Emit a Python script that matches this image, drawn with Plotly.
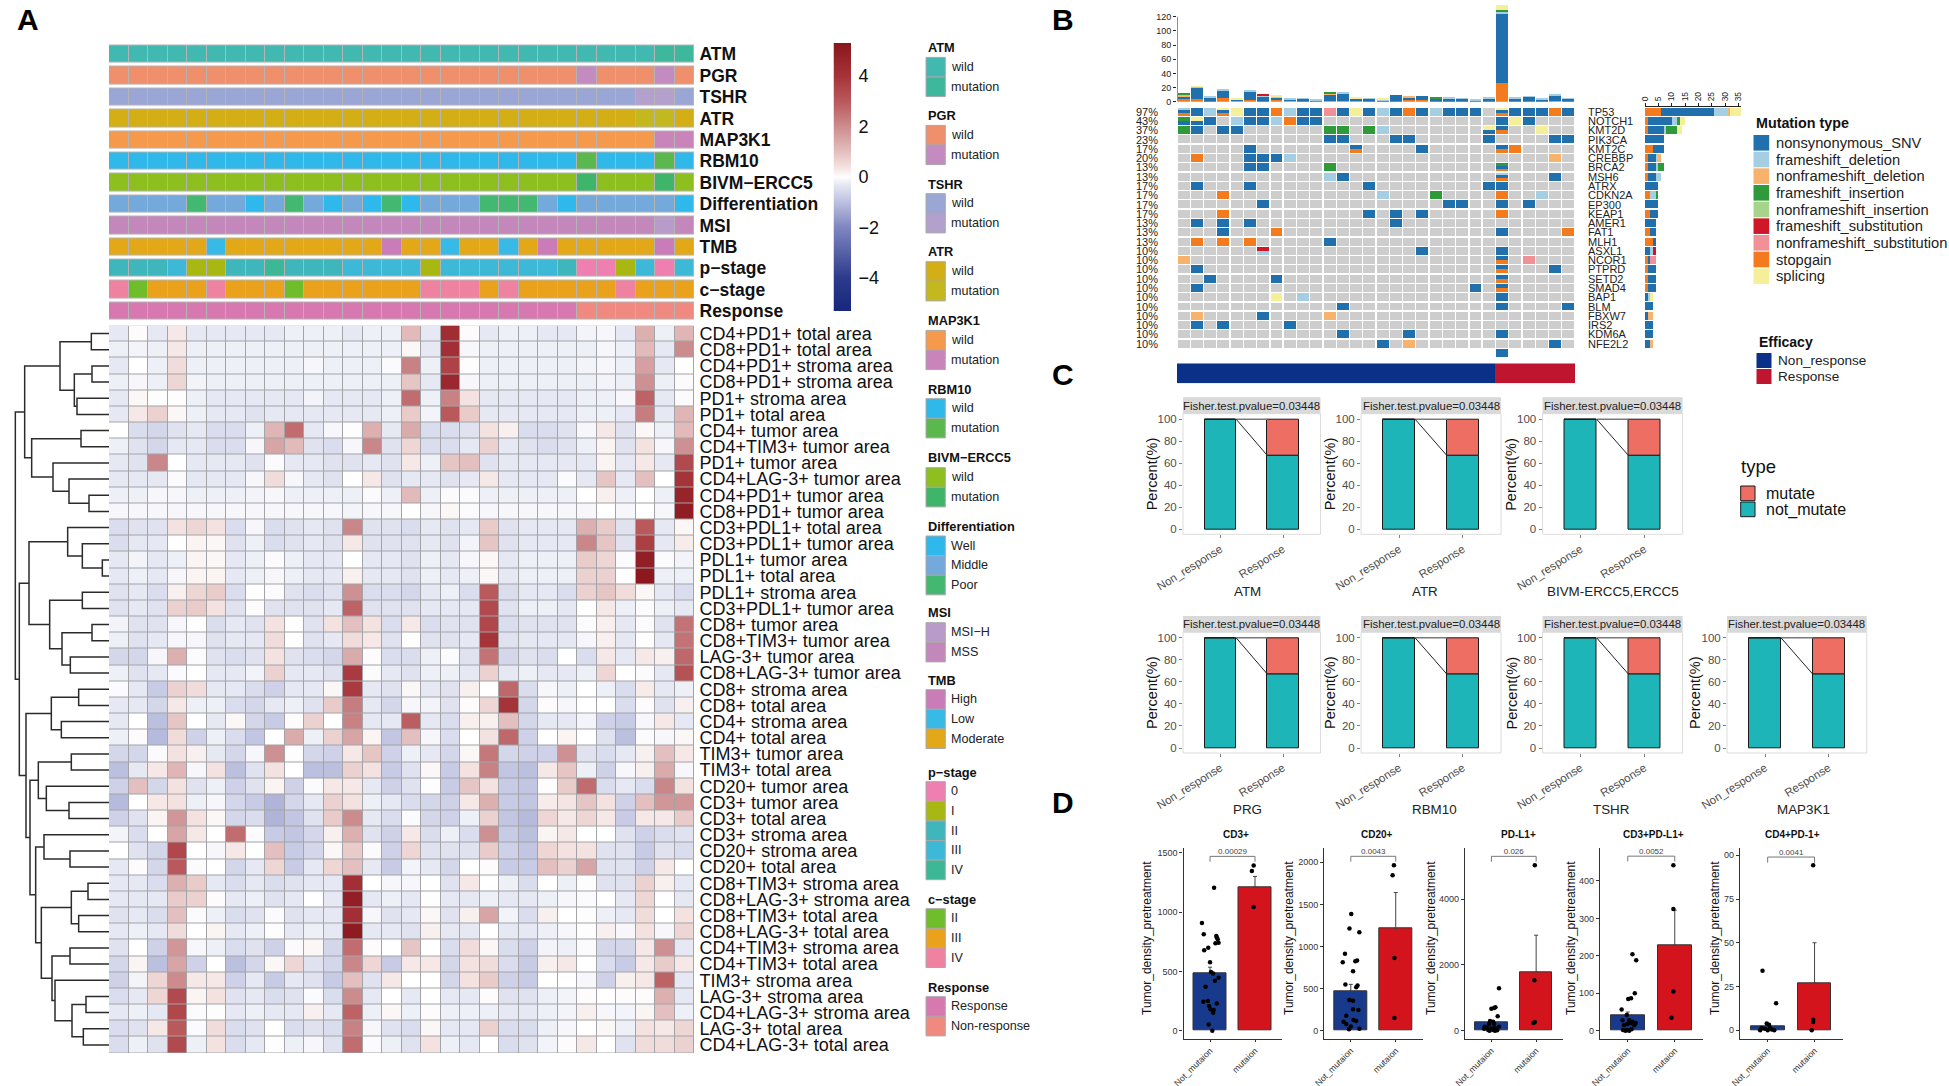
import plotly.graph_objects as go

W, H = 1949, 1086
FONT = "Liberation Sans"

# ---------- Panel A data ----------
heat_labels = ["CD4+PD1+ total area","CD8+PD1+ total area","CD4+PD1+ stroma area","CD8+PD1+ stroma area","PD1+ stroma area","PD1+ total area",
"CD4+ tumor area","CD4+TIM3+ tumor area","PD1+ tumor area","CD4+LAG-3+ tumor area","CD4+PD1+ tumor area","CD8+PD1+ tumor area",
"CD3+PDL1+ total area","CD3+PDL1+ tumor area","PDL1+ tumor area","PDL1+ total area","PDL1+ stroma area","CD3+PDL1+ tumor area",
"CD8+ tumor area","CD8+TIM3+ tumor area","LAG-3+ tumor area","CD8+LAG-3+ tumor area","CD8+ stroma area","CD8+ total area",
"CD4+ stroma area","CD4+ total area","TIM3+ tumor area","TIM3+ total area","CD20+ tumor area","CD3+ tumor area","CD3+ total area",
"CD3+ stroma area","CD20+ stroma area","CD20+ total area","CD8+TIM3+ stroma area","CD8+LAG-3+ stroma area","CD8+TIM3+ total area",
"CD8+LAG-3+ total area","CD4+TIM3+ stroma area","CD4+TIM3+ total area","TIM3+ stroma area","LAG-3+ stroma area","CD4+LAG-3+ stroma area",
"LAG-3+ total area","CD4+LAG-3+ total area"]

heat_values = [
[-.3,.05,-.3,.3,-.3,-.3,-.3,-.3,-.3,-.2,-.2,-.2,-.3,-.2,-.2,1.1,-.3,4.3,.05,-.3,-.2,-.2,-.3,-.3,-.15,-.1,-.3,1.3,-.2,1.2],
[-.2,-.15,-.2,.3,-.2,-.2,-.2,-.2,-.2,-.2,-.2,-.2,-.2,-.2,-.2,.1,-.3,4.2,-.1,-.2,-.2,-.2,-.2,-.2,-.2,-.1,-.2,1.1,-.3,2.0],
[-.3,0,-.2,.5,-.2,-.2,-.2,-.2,-.2,-.2,-.1,-.2,-.2,-.2,-.05,2.2,-.2,3.6,.02,-.2,-.2,-.2,-.2,-.2,-.15,-.1,-.2,1.6,-.3,0],
[-.2,-.1,-.2,.6,-.15,-.2,-.2,-.2,-.2,-.2,-.2,-.2,-.2,-.2,-.2,.9,-.3,4.5,-.1,-.2,-.2,-.2,-.2,-.2,-.2,-.15,-.2,1.9,-.2,-.05],
[-.3,.1,-.02,-.02,-.2,-.3,-.3,-.3,-.3,-.3,-.15,-.3,-.3,-.3,-.2,2.6,-.2,2.2,.4,-.3,-.3,-.3,-.3,-.3,-.2,-.2,-.1,2.8,-.3,-.05],
[-.3,.3,.7,.1,-.2,-.3,-.3,-.4,-.3,-.3,-.3,-.3,-.3,-.3,-.2,.8,-.15,3,.8,-.3,-.3,-.3,-.3,-.3,-.2,-.2,-.3,2.3,-.3,1.2],
[0,-.5,-.6,-.4,-.3,-.5,-.5,-.2,1.2,2.6,-.3,-.1,.02,1.3,-.3,1.4,-.5,-.5,-.4,.4,.2,-.5,-.5,-.4,-.1,.3,-.4,.1,-.2,1.1],
[-.2,-.4,-.6,-.3,-.3,-.5,-.5,-.1,1.5,1.1,-.4,-.5,-.1,2.1,-.4,.6,-.5,-.5,-.3,.7,-.3,-.4,-.5,-.4,-.2,.15,-.4,.4,-.1,1.9],
[-.3,-.4,2.1,0,-.3,-.3,-.3,-.4,-.05,-.3,-.3,-.4,-.4,-.3,-.4,.3,-.2,.9,1.0,-.4,-.3,-.3,-.3,-.3,-.3,.15,-.3,.3,-.3,3.4],
[-.3,-.3,-.3,-.05,-.3,-.3,-.3,-.1,.5,-.1,-.3,-.4,0,.3,-.4,-.3,-.3,-.4,-.3,.3,-.3,-.3,-.3,-.05,-.3,.9,-.3,1.0,0,4.0],
[-.2,-.2,-.1,-.1,-.2,-.2,-.2,-.15,-.1,-.2,-.2,-.2,-.2,-.05,-.2,1.1,-.2,-.05,-.05,-.2,-.2,-.2,-.2,-.2,0,.2,-.2,0,-.2,4.7],
[-.1,-.1,-.1,-.1,-.1,-.1,-.1,-.1,-.1,-.1,-.1,-.1,-.15,-.1,-.1,0,-.1,.1,-.05,-.1,-.1,-.1,-.1,-.1,-.1,0,-.1,0,-.1,5.0],
[-.5,-.4,-.4,.4,.6,.4,-.5,-.1,-.5,-.4,-.3,-.4,2.1,-.4,-.4,-.5,-.3,-.4,-.3,.8,-.4,-.3,-.3,-.3,1.3,.8,-.4,3.0,-.3,.1],
[-.5,-.3,-.3,0,.15,.1,-.4,-.2,-.5,-.4,-.3,-.4,.3,-.4,-.4,-.4,-.3,-.4,-.15,.9,-.4,-.3,-.3,-.3,2.1,.9,-.4,3.7,-.3,.25],
[-.3,-.15,-.3,-.2,.15,.1,-.3,-.2,-.05,-.2,-.3,-.3,0,-.3,-.3,-.4,-.2,-.3,-.1,.1,-.3,-.2,-.2,-.2,.8,.6,-.05,4.9,-.05,-.15],
[-.3,-.2,-.3,-.1,.15,.15,-.3,-.2,-.1,-.2,-.3,-.3,.2,-.3,-.3,-.4,-.2,-.3,-.2,.1,-.3,-.2,-.2,-.2,.7,.7,0,5.2,-.2,-.2],
[-.4,-.3,-.5,.2,.6,.8,-.5,0,-.05,-.4,-.5,-.4,1.9,-.5,-.5,-.6,-.3,-.2,-.5,3.0,-.5,-.3,-.3,-.5,.7,.9,.5,.1,-.3,-.5],
[-.4,-.3,-.4,.7,.8,.4,-.4,.05,-.4,-.4,-.4,-.3,2.8,-.4,-.4,-.4,-.3,-.3,-.3,3.4,-.4,-.2,-.2,-.3,0,.3,-.2,-.05,-.2,-.3],
[-.15,-.4,-.4,-.1,0,-.5,-.3,-.4,.4,0,-.4,.4,1.0,.4,-.5,.3,-.5,-.4,-.4,3.5,-.5,-.4,-.4,-.4,-.05,.2,-.3,-.05,-.4,2.5],
[-.2,-.4,-.3,-.1,-.1,-.4,-.3,-.3,.5,0,-.4,-.3,.5,.3,-.4,0,-.4,-.4,-.3,4.0,-.4,-.3,-.3,-.3,-.1,.2,-.3,0,-.3,2.5],
[-.6,-.6,-.1,1.3,-.05,-.4,-.5,-.4,.4,-.4,-.5,-.6,1.4,.05,-.5,-.5,-.2,-.05,-.4,2.5,-.6,-.4,-.5,0,-.5,.3,-.3,.3,.2,2.7],
[-.2,-.4,-.3,-.05,0,-.3,-.3,-.15,.7,-.3,-.3,-.4,3.8,-.05,-.3,-.4,-.2,-.2,-.3,.7,-.3,-.2,-.3,-.3,-.2,.6,0,-.05,-.3,3.2],
[-.05,-.3,-.8,.7,.5,-.3,-.3,-.5,-.7,-.3,-.3,.1,3.8,-.3,-.4,.1,-.3,-.4,.2,0,2.7,-.5,-.1,-.2,0,-.2,-.5,.25,-.3,-.2],
[-.3,-.3,-.6,.3,-.2,-.2,-.5,-.6,-.3,-.2,-.4,.8,2.3,-.3,-.6,-.1,-.15,-.4,.05,.6,4.0,-.6,.05,-.1,0,0,-.5,.05,-.4,.2],
[-.3,0,-1,.9,0,-.3,.1,-.6,-.8,.05,.7,0,2.2,-.3,-.3,2.9,-.3,-.5,.2,.2,1.0,-.6,-.3,-.3,-.15,-.7,-.8,-.1,.3,-.3],
[-.2,.05,-1.1,.5,-.7,-.2,-.5,-.9,0,1.4,-.2,.7,1.5,.15,-.9,1.0,-.1,-.5,0,.4,2.7,-.7,0,.15,0,-.4,-1.0,-.05,-.1,.1],
[-.6,-.6,-.05,.4,.2,-.3,-.6,-.1,1.9,-.02,-.6,-.7,.3,.9,-.7,-.2,-.3,-.6,.1,2.4,-.6,-.7,-.7,1.9,-.4,-.5,-.3,.2,1.0,.3],
[-1.0,-.3,.3,1.2,-.1,.4,-1,-.4,.4,0,-1,-1,.7,.4,-.8,-.4,.1,-.8,.4,2.2,-.9,-1,.3,.9,-.2,-.7,-.1,.2,1.4,-.1],
[-.7,1.0,-.6,.4,-.4,-.2,-.7,-.4,.15,-.7,-.05,.3,.3,-.3,-.7,-.4,.02,-.8,.9,.4,-.8,-.9,.02,.8,2.6,-.5,-.3,-.5,2.1,.4],
[-1.1,0,.3,.4,-.2,-.1,-.6,-.8,-1.2,-.6,-.3,.7,.4,-.2,-.3,-.5,-.6,-.7,.3,1.3,-.8,-.9,.25,.35,.9,.4,-.7,1.0,1.8,1.8],
[-.7,-.4,.15,1.8,.4,.1,-.6,-.5,-1.2,-.9,-.4,.8,2.0,-.3,-.5,-.05,-.6,-.7,-.2,.7,-.9,-1.1,.6,.3,.6,.3,-.8,.3,.3,.8],
[-.15,-.5,0,1.5,.3,0,2.6,-.05,-.8,-.9,-.6,.2,1.3,-.4,-.7,.3,-.5,-.2,-.5,1.9,-.8,-1,.15,.3,0,0,-.4,-.7,-.5,-.4],
[0,-.4,-.6,3.5,0,-.1,.3,0,1.0,-.8,-.6,.1,.8,-.05,-.7,.6,-.4,-.4,-.4,.8,-.7,-.9,.6,.4,.4,-.4,-.4,-.8,-.4,-.5],
[-.3,.05,-.6,3.0,-.05,0,-.6,-.3,.6,-.8,-.3,.6,1.0,-.3,-.8,-.15,-.3,-.6,0,.05,-.8,-.8,1.0,.7,1.5,-.4,-.4,-.7,.3,0],
[-.3,-.3,-.5,1.3,.8,-.3,-.5,-.3,-.5,-.4,-.3,-.3,4.2,0,-.1,-.1,0,-.4,.3,0,-.2,-.5,0,-.2,-.02,-.4,-.4,.7,.2,-.3],
[-.3,-.3,-.3,.8,.7,.05,-.3,-.2,-.4,-.3,0,-.3,4.9,-.3,-.2,-.3,.03,-.3,-.3,-.2,-.3,-.3,-.2,-.1,-.05,0,-.3,.6,0,-.3],
[-.4,-.3,-.5,1.0,-.05,-.2,-.5,-.4,-.05,-.4,-.3,-.3,4.2,-.1,-.4,-.3,.1,-.4,.2,1.5,-.15,-.5,.2,0,.03,-.2,-.3,.5,0,.4],
[-.3,-.2,-.3,.5,0,.15,-.3,-.2,.02,-.3,-.2,-.3,5.1,-.3,-.3,-.4,.2,-.3,-.3,0,-.3,-.3,-.2,-.1,-.02,.2,-.1,.4,-.1,.6],
[-.4,0,-.7,1.8,-.1,-.2,-.5,-.4,-.7,-.05,.1,-.6,2.6,.05,0,.9,0,-.5,.5,.1,-.5,-.7,-.15,-.2,-.05,-.6,-.6,.3,1.9,-.3],
[-.6,.15,-1,1.5,-.7,0,-1,-.6,.1,.6,-.4,-.6,2.1,.6,-.8,.3,.3,-.6,.4,.5,-.5,-.8,.2,.3,0,-.5,-.8,.3,.8,.3],
[-.7,-.15,.6,2.0,.3,.3,-.7,-.3,-.8,-.3,-.4,-.8,1.0,-.4,.3,0,0,-.6,.4,.8,-.7,-.8,0,0,-.1,-.7,.2,.3,2.8,-.3],
[-.5,-.3,.6,3.4,.15,.4,-.4,-.3,-.5,-.4,-.05,-.5,2.0,-.3,0,-.3,0,-.3,-.3,.05,-.4,-.4,-.2,-.15,.05,0,.05,.05,1.3,-.3],
[-.3,-.2,-.3,3.5,-.05,.02,-.3,-.2,-.3,-.3,.2,-.3,2.8,-.2,.1,-.2,.05,-.2,-.2,-.2,-.3,-.3,-.2,-.15,.2,-.1,-.15,.15,1.0,-.2],
[-.5,-.4,.3,3.0,-.05,.5,-.5,-.4,0,-.5,-.4,-.5,2.2,-.1,-.4,-.5,.1,-.3,-.3,.7,-.5,-.5,-.2,-.1,0,.1,-.2,.4,.3,.6],
[-.5,-.2,-.4,3.4,-.2,.4,-.5,-.3,-.02,-.2,-.1,-.4,2.6,-.05,-.2,-.4,.4,-.2,-.3,0,-.5,-.4,-.15,.05,.3,0,-.4,.5,.5,.7],
]

heat_stops = [(-5.3,"#17277c"),(-4,"#2d3b8d"),(-2,"#7f86c0"),(-1,"#bcc0df"),(-.3,"#e6e8f3"),(0,"#ffffff"),
              (.3,"#f5e8e6"),(1,"#e4bfbf"),(2,"#cc8c8e"),(3,"#b9595c"),(4,"#a53439"),(5.3,"#8a161c")]

track_names = ["ATM","PGR","TSHR","ATR","MAP3K1","RBM10","BIVM\u2212ERCC5","Differentiation","MSI","TMB","p\u2212stage","c\u2212stage","Response"]
track_ATM = ["wild"]*28 + ["mutation"]*2
track_PGR = ["wild"]*24 + ["mutation","wild","wild","wild","mutation","wild"]
track_TSHR = ["wild"]*27 + ["mutation","mutation","wild"]
track_ATR = ["wild"]*27 + ["mutation","mutation","wild"]
track_MAP3K1 = ["wild"]*28 + ["mutation","mutation"]
track_RBM10 = ["wild"]*24 + ["mutation","wild","wild","wild","mutation","wild"]
track_BIVM = ["wild"]*24 + ["mutation","wild","wild","wild","mutation","wild"]
track_diff = ["Middle","Middle","Middle","Middle","Poor","Middle","Middle","Well","Middle","Poor","Middle","Well","Middle","Well","Poor","Well","Middle","Middle","Middle","Poor","Poor","Poor","Middle","Well","Middle","Middle","Middle","Middle","Middle","Well"]
track_MSI = ["MSS"]*28 + ["MSI\u2212H","MSS"]
track_TMB = ["Moderate","Moderate","Moderate","Moderate","Moderate","Low","Moderate","Moderate","Moderate","Moderate","Moderate","Moderate","Moderate","Moderate","High","Moderate","Moderate","Low","Moderate","Moderate","Low","Moderate","High","Moderate","Moderate","Moderate","Moderate","Moderate","High","Moderate"]
track_p = ["II","II","II","III","I","I","II","II","IV","II","II","II","III","III","III","III","I","III","III","III","III","III","III","II","0","0","I","III","0","III"]
track_c = ["IV","II","III","III","III","IV","III","III","III","II","III","III","III","III","III","III","IV","IV","IV","III","IV","III","III","III","III","III","IV","III","III","III"]
track_resp = ["Response"]*24 + ["Non-response"]*6
track_data = [track_ATM,track_PGR,track_TSHR,track_ATR,track_MAP3K1,track_RBM10,track_BIVM,track_diff,track_MSI,track_TMB,track_p,track_c,track_resp]

legend_groups = [
 ("ATM",["wild","mutation"],["#42b9b0","#3db89c"],47.7),
 ("PGR",["wild","mutation"],["#f08f6b","#c48bc0"],115.7),
 ("TSHR",["wild","mutation"],["#9aa6d6","#b3a0cc"],184),
 ("ATR",["wild","mutation"],["#d3ae14","#c4b81f"],252),
 ("MAP3K1",["wild","mutation"],["#f59a4d","#c985ba"],320.7),
 ("RBM10",["wild","mutation"],["#2fb9ea","#5ab84f"],389),
 ("BIVM\u2212ERCC5",["wild","mutation"],["#8dbf1f","#3fb56a"],458),
 ("Differentiation",["Well","Middle","Poor"],["#2fb8ec","#74a9dc","#43b870"],526.3),
 ("MSI",["MSI\u2212H","MSS"],["#b89bc8","#c487bb"],613),
 ("TMB",["High","Low","Moderate"],["#c97cb7","#37bae6","#e2a818"],680),
 ("p\u2212stage",["0","I","II","III","IV"],["#ee7fb0","#a9b713","#3fb6bb","#3db8d6","#3db896"],772),
 ("c\u2212stage",["II","III","IV"],["#70bd2c","#eaa21c","#ee82a0"],899),
 ("Response",["Response","Non-response"],["#d878b0","#f08a80"],987),
]

# dendrogram merges: (child, child, height); ints are rows, "mN" is merge N
den_merges = [
 (1,2,53),(3,4,51),(5,6,96),("m1","m2",104),("m0","m3",147),
 (7,8,84),(11,12,60),(10,"m6",120),(9,"m7",168),("m5","m8",232),("m4","m9",253),
 (15,16,20),(14,"m11",80),(13,"m12",124),(17,18,80),(19,20,51),(21,22,116),("m15","m16",141),("m14","m17",178),("m13","m18",240),
 (23,24,91),(25,26,143),("m20","m21",173),
 (27,28,113),(30,31,120),(29,"m24",188),("m23","m25",212),
 (33,34,117),(32,"m27",195),
 (35,36,63),(37,38,91),("m29","m30",113),
 (39,40,117),(42,43,69),(44,45,77),("m33","m34",111),(41,"m35",162),("m32","m36",171),("m31","m37",203),
 ("m28","m38",220),("m26","m39",237),("m22","m40",249),("m19","m41",269),("m10","m42",281),
]

# ---------- Panel B data ----------
genes = ["TP53","NOTCH1","KMT2D","PIK3CA","KMT2C","CREBBP","BRCA2","MSH6","ATRX","CDKN2A","EP300","KEAP1","AMER1","FAT1","MLH1","ASXL1","NCOR1","PTPRD","SETD2","SMAD4","BAP1","BLM","FBXW7","IRS2","KDM6A","NFE2L2"]
gene_pct = ["97%","43%","37%","23%","17%","20%","13%","13%","17%","17%","17%","17%","13%","13%","13%","10%","10%","10%","10%","10%","10%","10%","10%","10%","10%","10%"]
mut_types = ["N","F","D","I","J","S","T","G","P"]
mut_names = ["nonsynonymous_SNV","frameshift_deletion","nonframeshift_deletion","frameshift_insertion","nonframeshift_insertion","frameshift_substitution","nonframeshift_substitution","stopgain","splicing"]
mut_colors = ["#2070ad","#a6cee3","#f7b26b","#2f9a39","#a8d38a","#d0172a","#f29097","#f37a1d","#f6ef9a"]
onco = [
 {1:"FNG",2:"N",3:"F",4:"PNG",5:"P",6:"N",7:"N",8:"G",9:"F",10:"N",11:"N",12:"T",13:"N",14:"P",15:"N",16:"F",17:"N",18:"G",19:"N",20:"F",21:"N",22:"N",23:"N",25:"PNG",26:"N",27:"N",28:"N",29:"G",30:"N"},
 {1:"IN",2:"PN",3:"N",5:"F",6:"N",7:"N",8:"F",9:"G",10:"N",11:"N",25:"N",26:"P",27:"N"},
 {1:"I",2:"N",4:"N",5:"N",12:"I",13:"I",15:"I",16:"F",24:"PN",25:"NG",28:"P"},
 {12:"N",13:"N",17:"N",18:"N",24:"N",29:"N",30:"N"},
 {6:"N",14:"NG",19:"N",25:"NG",26:"G"},
 {2:"G",6:"N",7:"N",8:"N",9:"F",29:"D"},
 {6:"N",7:"N",12:"I",25:"ING"},
 {12:"F",13:"N",25:"FNG",29:"N"},
 {2:"N",6:"N",15:"N",24:"N",25:"N"},
 {4:"G",16:"F",20:"I",25:"G",28:"F"},
 {7:"N",21:"N",22:"N",25:"N",27:"N"},
 {4:"G",15:"N",17:"N",19:"N",25:"G"},
 {2:"N",4:"N",6:"N",17:"N"},
 {4:"N",8:"G",25:"N",30:"G"},
 {2:"G",4:"G",6:"G",12:"N"},
 {7:"SF",19:"N",25:"N"},
 {1:"D",25:"NG",27:"T"},
 {2:"N",25:"NG",29:"N"},
 {3:"N",8:"N",25:"NG"},
 {2:"N",23:"N",25:"NG"},
 {8:"P",10:"F",25:"N"},
 {13:"N",25:"N",30:"N"},
 {2:"D",7:"N",12:"D"},
 {2:"N",4:"N",9:"N"},
 {13:"N",18:"N",25:"N"},
 {16:"N",18:"D",29:"N"},
 {25:"N"},
]
stack_order = ["G","N","F","D","I","J","S","T","P"]
top_counts = {
 "G":[4,4,0,5,1,2,0,3,1,0,0,1,1,2,0,0,0,3,2,0,0,0,0,0,27,0,0,0,1,0],
 "N":[4,16,6,11,2,13,8,3,2,4,2,8,11,2,4,1,9,3,6,4,5,4,2,5,98,5,7,3,8,4],
 "F":[0,1,1,1,0,1,1,2,2,1,1,0,2,0,1,2,0,0,0,0,1,1,1,1,2,1,1,1,1,1],
 "D":[2,0,0,0,0,0,0,0,0,0,0,3,0,0,0,0,0,1,0,0,0,0,0,0,0,0,0,0,0,0],
 "I":[3,0,0,0,0,0,0,0,0,0,0,2,0,1,0,0,0,0,0,2,0,0,0,0,3,0,0,0,0,0],
 "J":[0]*30,
 "S":[0,0,0,0,0,0,1,0,0,0,0,0,0,0,0,0,0,0,0,0,0,0,0,0,0,0,0,0,0,0],
 "T":[0]*30,
 "P":[0,1,0,0,1,0,0,1,0,0,0,0,0,2,0,1,0,0,0,0,0,0,0,0,7,0,0,0,0,0],
}
right_counts = {
 "G":[6,1,1,0,3,1,1,1,0,2,0,2,0,2,3,0,1,1,1,1,0,0,0,0,0,0],
 "N":[20,9,6,7,4,3,3,3,5,0,5,3,4,2,1,2,1,3,3,3,1,3,1,3,3,2],
 "F":[5,2,1,0,0,1,1,2,0,2,0,0,0,0,0,1,0,0,0,0,1,0,0,0,0,0],
 "D":[1,0,0,0,0,1,0,0,0,0,0,0,0,0,0,0,0,0,0,0,0,0,2,0,0,1],
 "I":[0,1,4,0,0,0,2,0,0,1,0,0,0,0,0,0,0,0,0,0,0,0,0,0,0,0],
 "J":[0]*26,
 "S":[0,0,0,0,0,0,0,0,0,0,0,0,0,0,0,1,0,0,0,0,0,0,0,0,0,0],
 "T":[0,0,0,0,0,0,0,0,0,0,0,0,0,0,0,0,2,0,0,0,0,0,0,0,0,0],
 "P":[4,2,2,0,0,0,0,0,0,0,0,0,0,0,0,0,0,0,0,0,1,0,0,0,0,0],
}
efficacy = ["Non_response"]*24 + ["Response"]*6

# ---------- Panel C data ----------
c_titles = ["ATM","ATR","BIVM-ERCC5,ERCC5","PRG","RBM10","TSHR","MAP3K1"]
c_groups = ["Non_response","Response"]
c_not_mutate = [100, 67]
c_mutate = [0, 33]
c_pvalue = "Fisher.test.pvalue=0.03448"

# ---------- Panel D data ----------
d_titles = ["CD3+","CD20+","PD-L1+","CD3+PD-L1+","CD4+PD-1+"]
d_groups = ["Not_mutaion","mutaion"]
d_bars = [[480,1210],[470,1210],[240,1780],[40,228],[2.5,27]]
d_errs = [[55,90],[80,430],[40,1120],[10,94],[0.5,23]]
d_p = ["0.00029","0.0043","0.026","0.0052","0.0041"]
d_bracket = [(1424,1469),(2008,2071),(5134,5296),(452,466),(95.8,99)]
d_ranges = [[-70,1537],[-99,2166],[-253,5540],[-22,487],[-5,104]]
d_ticks = [[0,500,1000,1500],[0,500,1000,1500,2000],[0,2000,4000],[0,100,200,300,400],[0,25,50,75,100]]
d_ticktext = [["0","500","1000","1500"],["0","500","1000","1500","2000"],["0","2000","4000"],["0","100","200","300","400"],["0","25","50","75","00"]]
d1_x = [-.18,-.14,.09,-.13,-.04,.14,.15,.17,.12,.19,0,.02,.07,.11,.19,-.1,-.15,-.05,.15,-.02,.01,.08,.07,-.03,.05]
d1_y = [907,812,1205,677,700,798,786,770,736,742,576,494,483,421,447,371,244,250,230,208,180,174,152,53,0]
d1_mx = [-.03,-.07,-.03]; d1_my = [1393,1345,1042]
d2_x = [.01,-.03,.19,-.13,-.18,.1,.14,.05,-.12,.12,.15,-.03,.05,.05,.17,-.1,-.16,.06,.12,0,-.04,.19,-.1]
d2_y = [1386,1212,1168,915,812,824,832,705,547,515,535,364,356,253,245,178,107,127,115,48,16,24,79]
d2_mx = [-.04,-.07,-.03,-.03]; d2_my = [1964,1845,863,150]
d3_x = [.17,0,.06,.09,.14,-.03,.04,-.05,.06,-.15,-.1,0,.08,.17,-.07,.04,.13,-.16,-.04,.08]
d3_y = [1286,668,689,709,435,294,273,203,203,122,91,71,71,122,20,20,10,61,0,0]
d3_mx = [-.03,-.04,-.03,-.06]; d3_my = [5023,1529,263,233]
d4_x = [.1,.18,.15,.07,.01,-.13,-.02,-.11,.03,.1,.17,-.08,-.01,.06,.14,-.1,-.01,.08,-.05,.03]
d4_y = [204,188,100,87,85,57,42,28,28,24,21,15,18,20,15,2,2,4,0,0]
d4_mx = [-.03,-.03,-.03,-.07]; d4_my = [442,325,105,35]
d5_x = [-.11,.18,-.02,.03,-.13,-.06,.05,.09,-.16,.14,0]
d5_y = [34,15.4,3.8,3.2,1.3,.8,1.3,.4,0,0,0]
d5_mx = [-.03,-.03,-.03,-.06]; d5_my = [94.3,6,4.7,0]
d_points = [(d1_x,d1_y,d1_mx,d1_my),(d2_x,d2_y,d2_mx,d2_my),(d3_x,d3_y,d3_mx,d3_my),(d4_x,d4_y,d4_mx,d4_my),(d5_x,d5_y,d5_mx,d5_my)]

# ---------- helpers ----------
fig = go.Figure()
layout = {}
annos = []
shapes = []

def px(x): return x / W
def py(y): return 1 - y / H

def add_axes(n, x0, x1, y0, y1, xa=None, ya=None):
    sx = "" if n == 1 else str(n)
    xd = dict(domain=[px(x0), px(x1)], anchor="y" + sx, showgrid=False, zeroline=False, automargin=False)
    yd = dict(domain=[py(y1), py(y0)], anchor="x" + sx, showgrid=False, zeroline=False, automargin=False)
    xd.update(xa or {}); yd.update(ya or {})
    layout["xaxis" + sx] = xd
    layout["yaxis" + sx] = yd
    return "x" + sx, "y" + sx

def text(x, y, s, size, bold=False, anchor="left", color="#111111", angle=0):
    annos.append(dict(x=px(x), y=py(y), xref="paper", yref="paper", text=s, showarrow=False,
                      xanchor=anchor, yanchor="middle", textangle=angle,
                      font=dict(family=FONT, size=size, color=color, weight=700 if bold else 400)))

def box(x0, y0, x1, y1, fill, line=None, lw=1):
    shapes.append(dict(type="rect", xref="paper", yref="paper", x0=px(x0), x1=px(x1), y0=py(y1), y1=py(y0),
                       fillcolor=fill, line=dict(color=line or fill, width=lw if line else 0), layer="below"))

# ---------- Panel A ----------
zmin, zmax = -5.3, 5.3
cscale = [[(v - zmin) / (zmax - zmin), c] for v, c in heat_stops]
cols = list(range(1, 31))
rows = list(range(1, 46))
xa, ya = add_axes(1, 109, 694, 325.5, 1053,
    dict(range=[.5, 30.5], visible=False),
    dict(range=[45.5, .5], side="right", tickmode="array", tickvals=rows, ticktext=heat_labels,
         tickfont=dict(family=FONT, size=18, color="#111111"), ticks="outside", ticklen=1, tickcolor="rgba(0,0,0,0)", showline=False))
fig.add_trace(go.Heatmap(x=cols, y=rows, z=[[0]*30 for _ in rows], colorscale=[[0,"#a3a3a8"],[1,"#a3a3a8"]], showscale=False, xaxis=xa, yaxis=ya, hoverinfo="skip"))
fig.add_trace(go.Heatmap(x=cols, y=rows, z=heat_values, colorscale=cscale, zmin=zmin, zmax=zmax, xgap=1, ygap=1, showscale=False, xaxis=xa, yaxis=ya))

# value scale of the heatmap, drawn as its own axis so it does not push the margins
scale_levels = [zmin + i * (zmax - zmin) / 267 for i in range(268)]
xa, ya = add_axes(20, 833.5, 851, 43, 311,
    dict(range=[0, 1], visible=False),
    dict(range=[zmin, zmax], side="right", tickmode="array", tickvals=[-4,-2,0,2,4], ticktext=["\u22124","\u22122","0","2","4"],
         ticks="outside", ticklen=3, tickcolor="rgba(0,0,0,0)", tickfont=dict(family=FONT, size=18, color="#111111")))
fig.add_trace(go.Heatmap(x=[.5], y=scale_levels, z=[[v] for v in scale_levels], colorscale=cscale, zmin=zmin, zmax=zmax, showscale=False, xaxis=xa, yaxis=ya, hoverinfo="skip"))

# annotation tracks
palette = {}
for gname, labs, colors, _ in legend_groups:
    for lab, c in zip(labs, colors):
        palette[(gname, lab)] = c
colour_list = list(dict.fromkeys(palette.values()))
track_z = []
for name, vals in zip(track_names, track_data):
    track_z.append([colour_list.index(palette[(name, v)]) for v in vals])
track_scale = [[i / (len(colour_list) - 1), c] for i, c in enumerate(colour_list)]
track_rows = list(range(13))
xa, ya = add_axes(2, 109, 694, 43.5, 321.7,
    dict(range=[.5, 30.5], visible=False),
    dict(range=[12.5, -.5], side="right", tickmode="array", tickvals=track_rows, ticktext=track_names,
         tickfont=dict(family=FONT, size=17.5, color="#111111", weight=700), ticks="outside", ticklen=1, tickcolor="rgba(0,0,0,0)"))
fig.add_trace(go.Heatmap(x=cols, y=track_rows, z=[[0]*30 for _ in track_rows], colorscale=[[0,"#b4b4b4"],[1,"#b4b4b4"]], showscale=False, ygap=2.9, xaxis=xa, yaxis=ya, hoverinfo="skip"))
fig.add_trace(go.Heatmap(x=cols, y=track_rows, z=track_z, colorscale=track_scale, zmin=0, zmax=len(colour_list)-1, showscale=False, xgap=1, ygap=4.9, xaxis=xa, yaxis=ya))

# legends of panel A
for gname, labs, colors, ty in legend_groups:
    text(926, ty, gname, 12.8, bold=True)
    y = ty + 9.7
    for lab, c in zip(labs, colors):
        box(926, y, 945.3, y + 19.6, c, "#a8a8a8", 1)
        text(949, y + 9.6, lab, 12.6, color="#222222")
        y += 19.6

# dendrogram
nodes = {}
dx, dy = [], []
def node_pos(k):
    if isinstance(k, int):
        return 0, k
    return nodes[k]
for i, (a, b, h) in enumerate(den_merges):
    ha, ya_ = node_pos(a)
    hb, yb_ = node_pos(b)
    dx += [ha, h, h, hb, None]
    dy += [ya_, ya_, yb_, yb_, None]
    nodes["m%d" % i] = (h, (ya_ + yb_) / 2)
xa, ya = add_axes(3, 0, 109, 325.5, 1053, dict(range=[327, 0], visible=False), dict(range=[45.5, .5], visible=False))
fig.add_trace(go.Scatter(x=dx, y=dy, mode="lines", line=dict(color="#2b2b2b", width=1.5), xaxis=xa, yaxis=ya, showlegend=False, hoverinfo="skip"))

# ---------- Panel B ----------
n_col = 30
top_max = 138
xa, ya = add_axes(4, 1177, 1575, 4, 101.7,
    dict(range=[.5, 30.5], visible=False),
    dict(range=[0, top_max], tickmode="array", tickvals=[0,20,40,60,80,100,120], ticks="outside", ticklen=3, showline=False, tickcolor="#222222",
         tickfont=dict(family=FONT, size=9, color="#222222")))
fig.add_trace(go.Scatter(x=[.5, .5], y=[0, 120], mode="lines", line=dict(color="#222222", width=1), xaxis=xa, yaxis=ya, showlegend=False, hoverinfo="skip", cliponaxis=False))
base = [0]*n_col
for t in stack_order:
    vals = top_counts[t]
    if sum(vals) > 0:
        fig.add_trace(go.Bar(x=cols, y=vals, base=list(base), width=.9, marker=dict(color=mut_colors[mut_types.index(t)], line=dict(width=0)), xaxis=xa, yaxis=ya, showlegend=False))
    base = [b + v for b, v in zip(base, vals)]

# oncoplot grid
xa, ya = add_axes(5, 1177, 1575, 107.07, 357.6, dict(range=[.5, 30.5], visible=False), dict(range=[26.5, -.5], visible=False))
HALF = .43
bg_x, bg_y, bg_base = [], [], []
for r in range(len(genes)):
    for c in cols:
        bg_x.append(c); bg_y.append(2 * HALF); bg_base.append(r - HALF)
fig.add_trace(go.Bar(x=bg_x, y=bg_y, base=bg_base, width=.9, marker=dict(color="#cdcdcd", line=dict(width=0)), xaxis=xa, yaxis=ya, showlegend=False))
cell = {t: ([], [], []) for t in mut_types}
for r, muts in enumerate(onco):
    for c, code in muts.items():
        h = 2 * HALF / len(code)
        for i, t in enumerate(code):
            cell[t][0].append(c); cell[t][1].append(h); cell[t][2].append(r - HALF + i * h)
for t, col in zip(mut_types, mut_colors):
    if cell[t][0]:
        fig.add_trace(go.Bar(x=cell[t][0], y=cell[t][1], base=cell[t][2], width=.9, marker=dict(color=col, line=dict(width=0)), xaxis=xa, yaxis=ya, showlegend=False))
for r, (g, p) in enumerate(zip(genes, gene_pct)):
    annos.append(dict(x=px(1586), y=r, xref="paper", yref=ya, text=g, showarrow=False, xanchor="left", yanchor="middle", font=dict(family=FONT, size=11, color="#222222")))
    annos.append(dict(x=px(1160), y=r, xref="paper", yref=ya, text=p, showarrow=False, xanchor="right", yanchor="middle", font=dict(family=FONT, size=11, color="#222222")))

# right bars
xa, ya = add_axes(6, 1645, 1741, 107.07, 348.3,
    dict(range=[0, 36], side="top", tickmode="array", tickvals=[0,5,10,15,20,25,30,35], ticks="outside", ticklen=3, showline=True, linecolor="#222222", linewidth=1, tickcolor="#222222",
         tickangle=-90, tickfont=dict(family=FONT, size=8.5, color="#222222")),
    dict(range=[25.5, -.5], visible=False))
gene_idx = list(range(len(genes)))
base = [0]*len(genes)
for t in stack_order:
    vals = right_counts[t]
    if sum(vals) > 0:
        fig.add_trace(go.Bar(y=gene_idx, x=vals, base=list(base), orientation="h", width=.86, marker=dict(color=mut_colors[mut_types.index(t)], line=dict(width=0)), xaxis=xa, yaxis=ya, showlegend=False))
    base = [b + v for b, v in zip(base, vals)]

# efficacy strip
xa, ya = add_axes(7, 1177, 1575, 363.3, 383.3, dict(range=[.5, 30.5], visible=False), dict(range=[-.5, .5], visible=False))
fig.add_trace(go.Heatmap(x=cols, y=[0], z=[[0 if e == "Non_response" else 1 for e in efficacy]], colorscale=[[0,"#0b3088"],[1,"#c0152e"]], zmin=0, zmax=1, showscale=False, xaxis=xa, yaxis=ya))

text(1753.5, 123, "Mutation type", 14.3, bold=True)
for i, (n, c) in enumerate(zip(mut_names, mut_colors)):
    y = 135 + 16.67 * i
    box(1753.5, y, 1769.2, y + 15.6, c)
    text(1773.5, y + 8, n, 14.7, color="#222222")
text(1756.5, 341.7, "Efficacy", 14, bold=True)
for i, (n, c) in enumerate(zip(["Non_response", "Response"], ["#0b3088", "#c0152e"])):
    y = 353 + 16 * i
    box(1756.5, y, 1771.5, y + 15, c)
    text(1775.5, y + 7.5, n, 13.6, color="#222222")

# ---------- Panel C ----------
c_x = [(1183,1320.5),(1361,1501),(1542.5,1682.6),(1183,1320.5),(1361,1501),(1542.5,1682.6),(1727,1866.8)]
c_y = [(397.3,413.7,534.3)]*3 + [(616,632.3,753)]*4
c_lab_x = [1247.8,1425,1612.8,1247.8,1434,1611,1803]
c_lab_y = [591]*3 + [809.7]*4
c_pct_x = [1152,1330,1511.5,1152,1330,1511.5,1695]
TEAL, SALMON = "#1db5b8", "#ee6e63"
group_pos = [1, 2]
for i, title in enumerate(c_titles):
    n = 8 + i
    (x0, x1), (s0, s1, s2) = c_x[i], c_y[i]
    xa, ya = add_axes(n, x0, x1, s1, s2,
        dict(range=[.4, 2.6], tickmode="array", tickvals=group_pos, ticktext=c_groups, tickangle=-32, ticks="outside", ticklen=3, tickcolor="#7f7f7f",
             tickfont=dict(family=FONT, size=11.5, color="#4d4d4d")),
        dict(range=[-4.5, 105], tickmode="array", tickvals=[0,20,40,60,80,100], ticks="outside", ticklen=3, tickcolor="#7f7f7f",
             tickfont=dict(family=FONT, size=11.5, color="#4d4d4d")))
    box(x0, s1, x1, s2, "rgba(0,0,0,0)", "#dcdcdc", 1)
    box(x0, s0, x1, s1, "#d9d9d9")
    text((x0 + x1) / 2, (s0 + s1) / 2, c_pvalue, 11.4, anchor="center", color="#222222")
    fig.add_trace(go.Bar(x=group_pos, y=c_not_mutate, width=.5, marker=dict(color=TEAL, line=dict(color="#1a1a1a", width=1)), xaxis=xa, yaxis=ya, showlegend=False))
    fig.add_trace(go.Bar(x=group_pos, y=c_mutate, base=c_not_mutate, width=.5, marker=dict(color=SALMON, line=dict(color="#1a1a1a", width=1)), xaxis=xa, yaxis=ya, showlegend=False))
    tops = [a + b for a, b in zip(c_not_mutate, c_mutate)]
    fig.add_trace(go.Scatter(x=[1.25, 1.75], y=tops, mode="lines", line=dict(color="#7a7a7a", width=1.5), xaxis=xa, yaxis=ya, showlegend=False, hoverinfo="skip"))
    fig.add_trace(go.Scatter(x=[1.25, 1.75], y=c_not_mutate, mode="lines", line=dict(color="#222222", width=1), xaxis=xa, yaxis=ya, showlegend=False, hoverinfo="skip"))
    text(c_lab_x[i], c_lab_y[i], title, 13.4, anchor="center", color="#222222")
    text(c_pct_x[i], (s1 + s2) / 2 + 0.3, "Percent(%)", 14.5, anchor="center", color="#111111", angle=-90)

text(1738.5, 467, "type", 18.5, color="#111111")
for i, (n, c) in enumerate(zip(["mutate", "not_mutate"], [SALMON, TEAL])):
    y = 486 + 16 * i
    box(1740.7, y, 1755, y + 14.7, c, "#1a1a1a", 1)
    text(1764, y + 7.5, n, 16, color="#111111")

# ---------- Panel D ----------
d_x = [(1183.5,1282),(1324.3,1422.7),(1465,1563),(1600,1703),(1740,1842.7)]
d_title_x = [1235.7,1377,1518,1653.7,1792]
d_ytitle_x = [1147,1289,1431,1571,1715]
for i, title in enumerate(d_titles):
    n = 15 + i
    x0, x1 = d_x[i]
    xa, ya = add_axes(n, x0, x1, 848.3, 1039,
        dict(range=[.41, 2.6], tickmode="array", tickvals=group_pos, ticktext=d_groups, tickangle=-45, ticks="outside", ticklen=2, showline=True, linecolor="#333333", linewidth=1.3, tickcolor="#333333",
             tickfont=dict(family=FONT, size=8.8, color="#333333")),
        dict(range=d_ranges[i], tickmode="array", tickvals=d_ticks[i], ticktext=d_ticktext[i], ticks="outside", ticklen=3, showline=True, linecolor="#333333", linewidth=1.3, tickcolor="#333333",
             tickfont=dict(family=FONT, size=9, color="#333333")))
    fig.add_trace(go.Bar(x=group_pos, y=d_bars[i], width=.72, marker=dict(color=["#173a8c", "#d4141c"], line=dict(color="#333333", width=1)),
                         error_y=dict(type="data", symmetric=False, array=d_errs[i], arrayminus=[0, 0], color="#444444", thickness=1, width=2),
                         xaxis=xa, yaxis=ya, showlegend=False))
    xs, ys, mxs, mys = d_points[i]
    fig.add_trace(go.Scatter(x=[1 + v for v in xs] + [2 + v for v in mxs], y=ys + mys, mode="markers", marker=dict(color="black", size=4.5), xaxis=xa, yaxis=ya, showlegend=False))
    lo, hi = d_bracket[i]
    fig.add_trace(go.Scatter(x=[1, 1, 2, 2], y=[lo, hi, hi, lo], mode="lines", line=dict(color="#777777", width=1), xaxis=xa, yaxis=ya, showlegend=False, hoverinfo="skip"))
    fig.add_trace(go.Scatter(x=[1.5], y=[hi], mode="text", text=[d_p[i]], textposition="top center", textfont=dict(family=FONT, size=8, color="#444444"), xaxis=xa, yaxis=ya, showlegend=False, cliponaxis=False, hoverinfo="skip"))
    text(d_title_x[i], 834.7, title, 10, bold=True, anchor="center")
    text(d_ytitle_x[i], 938, "Tumor_density_pretreatment", 12, anchor="center", color="#111111", angle=-90)

# panel letters
for s, x, y in [("A", 15, 19), ("B", 1050, 19), ("C", 1050, 375), ("D", 1050, 802)]:
    text(x, y, s, 30, bold=True, color="#000000")

layout.update(template="none", width=W, height=H, margin=dict(l=0, r=0, t=0, b=0, pad=0), autosize=False, paper_bgcolor="white", plot_bgcolor="white",
              barmode="overlay", showlegend=False, annotations=annos, shapes=shapes, font=dict(family=FONT), bargap=0)
fig.update_layout(**layout)
fig.write_html("out.html", config={"displayModeBar": False},
               post_script="document.body.style.margin='0';document.documentElement.style.overflow='hidden';")
